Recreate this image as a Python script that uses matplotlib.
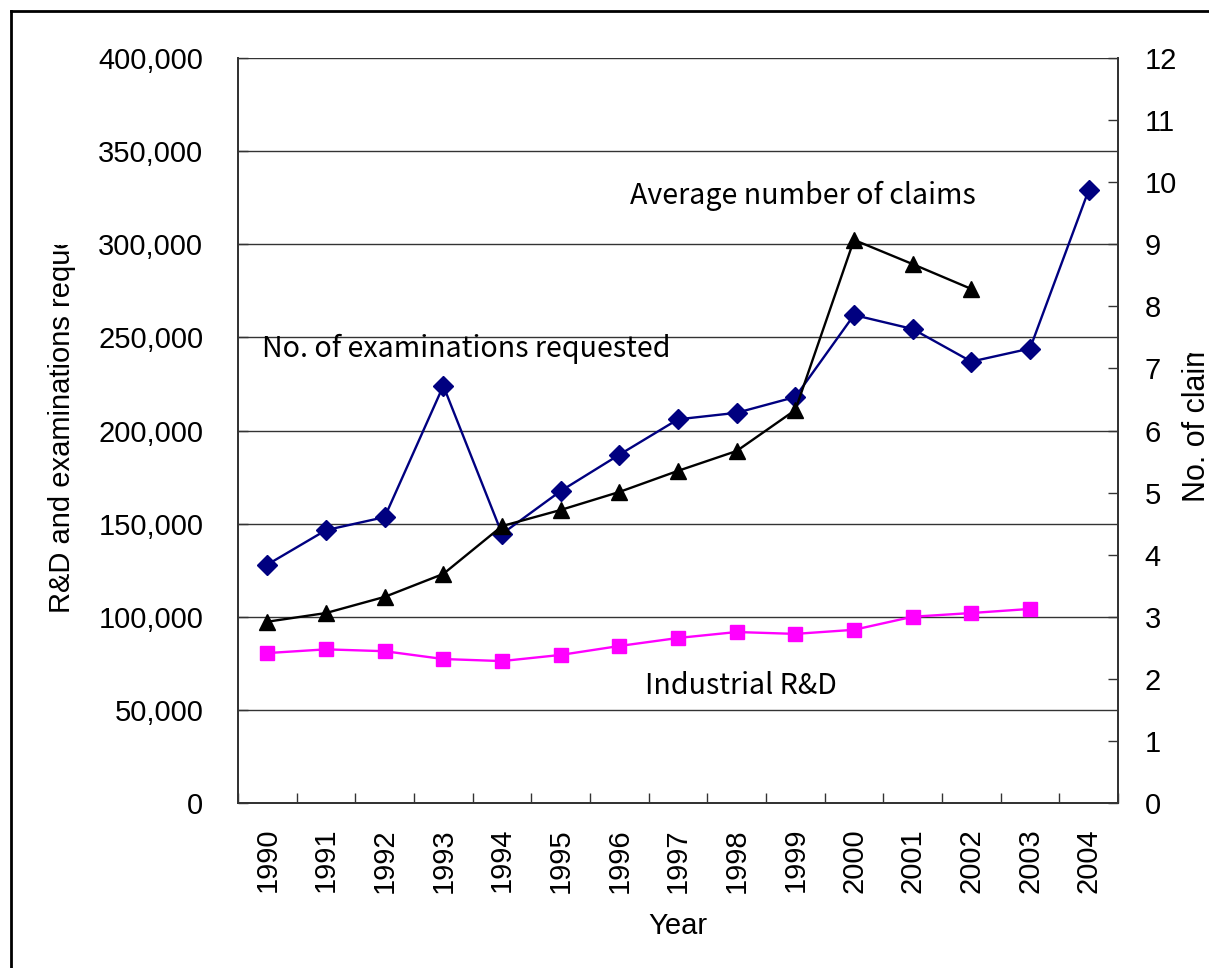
import numpy as np
import matplotlib
matplotlib.use("Agg")
import matplotlib.pyplot as plt
from matplotlib.ticker import FuncFormatter, MultipleLocator
from matplotlib.transforms import Bbox, TransformedBbox
from matplotlib.lines import Line2D

# --- data ---
years = ["1990", "1991", "1992", "1993", "1994", "1995", "1996", "1997",
         "1998", "1999", "2000", "2001", "2002", "2003", "2004"]
exams_requested = [128000, 146500, 153500, 224000, 144500, 167500, 187000,
                   206000, 209500, 218000, 262000, 254500, 237000, 244000, 329000]
industrial_rd = [80500, 82500, 81500, 77300, 76200, 79500, 84300, 88600,
                 91800, 90800, 93000, 100000, 102000, 104200]
avg_claims = [2.92, 3.06, 3.32, 3.69, 4.46, 4.72, 5.01, 5.35, 5.67, 6.33,
              9.07, 8.68, 8.28]

plt.rcParams['font.family'] = ['Liberation Sans', 'DejaVu Sans']
note_font = ['Noto Sans CJK JP', 'DejaVu Sans']

W, H = 1209, 968
fig = plt.figure(figsize=(W / 100, H / 100), dpi=100)
ax = fig.add_axes([238 / W, 1 - 803 / H, (1118 - 238) / W, (803 - 58) / H])
ax2 = ax.twinx()

x = np.arange(len(years))

# left axis: exams + industrial R&D
ax.plot(x, exams_requested, color="#000080", lw=1.7, marker="D", ms=10,
        zorder=4, clip_on=False)
ax.plot(x[:len(industrial_rd)], industrial_rd, color="#FF00FF", lw=1.7,
        marker="s", ms=9.5, zorder=4, clip_on=False)

# right axis: claims per application
ax2.plot(x[:len(avg_claims)], avg_claims, color="black", lw=1.7, marker="^",
         ms=11, zorder=4, clip_on=False)

ax.set_xlim(-0.5, len(years) - 0.5)
ax.set_ylim(0, 400000)
ax2.set_ylim(0, 12)

ax.yaxis.set_major_locator(MultipleLocator(50000))
ax.yaxis.set_major_formatter(FuncFormatter(lambda v, p: f"{int(v):,}"))
ax2.yaxis.set_major_locator(MultipleLocator(1))

ax.set_xticks(x)
ax.set_xticklabels(years, rotation=90)
ax.set_xticks(np.arange(-0.5, len(years), 1.0), minor=True)
ax.tick_params(axis="x", which="major", length=0, pad=18, labelsize=21)
ax.tick_params(axis="x", which="minor", direction="in", length=7, width=1,
               color="#333333")
ax.tick_params(axis="y", direction="in", length=7, width=1, color="#333333",
               pad=25, labelsize=21)
ax2.tick_params(axis="y", direction="in", length=7, width=1, color="#333333",
                pad=19, labelsize=21)

ax.grid(axis="y", color="#333333", lw=1)
ax.set_axisbelow(True)
for a in (ax, ax2):
    a.spines["top"].set_visible(False)
    for s in ("left", "right", "bottom"):
        a.spines[s].set_color("#333333")
        a.spines[s].set_linewidth(1.3)
ax2.set_zorder(ax.get_zorder() + 1)
ax2.patch.set_visible(False)

ax.set_xlabel("Year", fontsize=21, labelpad=14)

# axis titles, cut off at the edge of their boxes
lt = fig.text(62 / W, 1 - 613 / H, "R&D and examinations requested",
              rotation=90, ha="center", va="bottom", fontsize=21)
lt.set_clip_box(TransformedBbox(Bbox.from_extents(0, 0, 0.2, 1 - 245 / H),
                                fig.transFigure))
lt.set_clip_on(True)
rt = fig.text(1197 / W, 1 - 502 / H, "No. of claims",
              rotation=90, ha="center", va="bottom", fontsize=22)
rt.set_clip_box(TransformedBbox(Bbox.from_extents(0.9, 0, 1, 1 - 353 / H),
                                fig.transFigure))
rt.set_clip_on(True)

# series captions
ax.text(6.18, 326000, "Average number of claims", fontsize=20.6,
        family=note_font, va="center", ha="left")
ax.text(-0.09, 244000, "No. of examinations requested", fontsize=20.6,
        family=note_font, va="center", ha="left")
ax.text(6.44, 63000, "Industrial R&D", fontsize=20.6,
        family=note_font, va="center", ha="left")

# outer frame (left and top edges)
fig.add_artist(Line2D([11 / W, 11 / W], [0, 1 - 11 / H], color="black",
                      lw=2, transform=fig.transFigure))
fig.add_artist(Line2D([11 / W, 1], [1 - 11 / H, 1 - 11 / H], color="black",
                      lw=2, transform=fig.transFigure))

fig.savefig("out.png", dpi=100)
